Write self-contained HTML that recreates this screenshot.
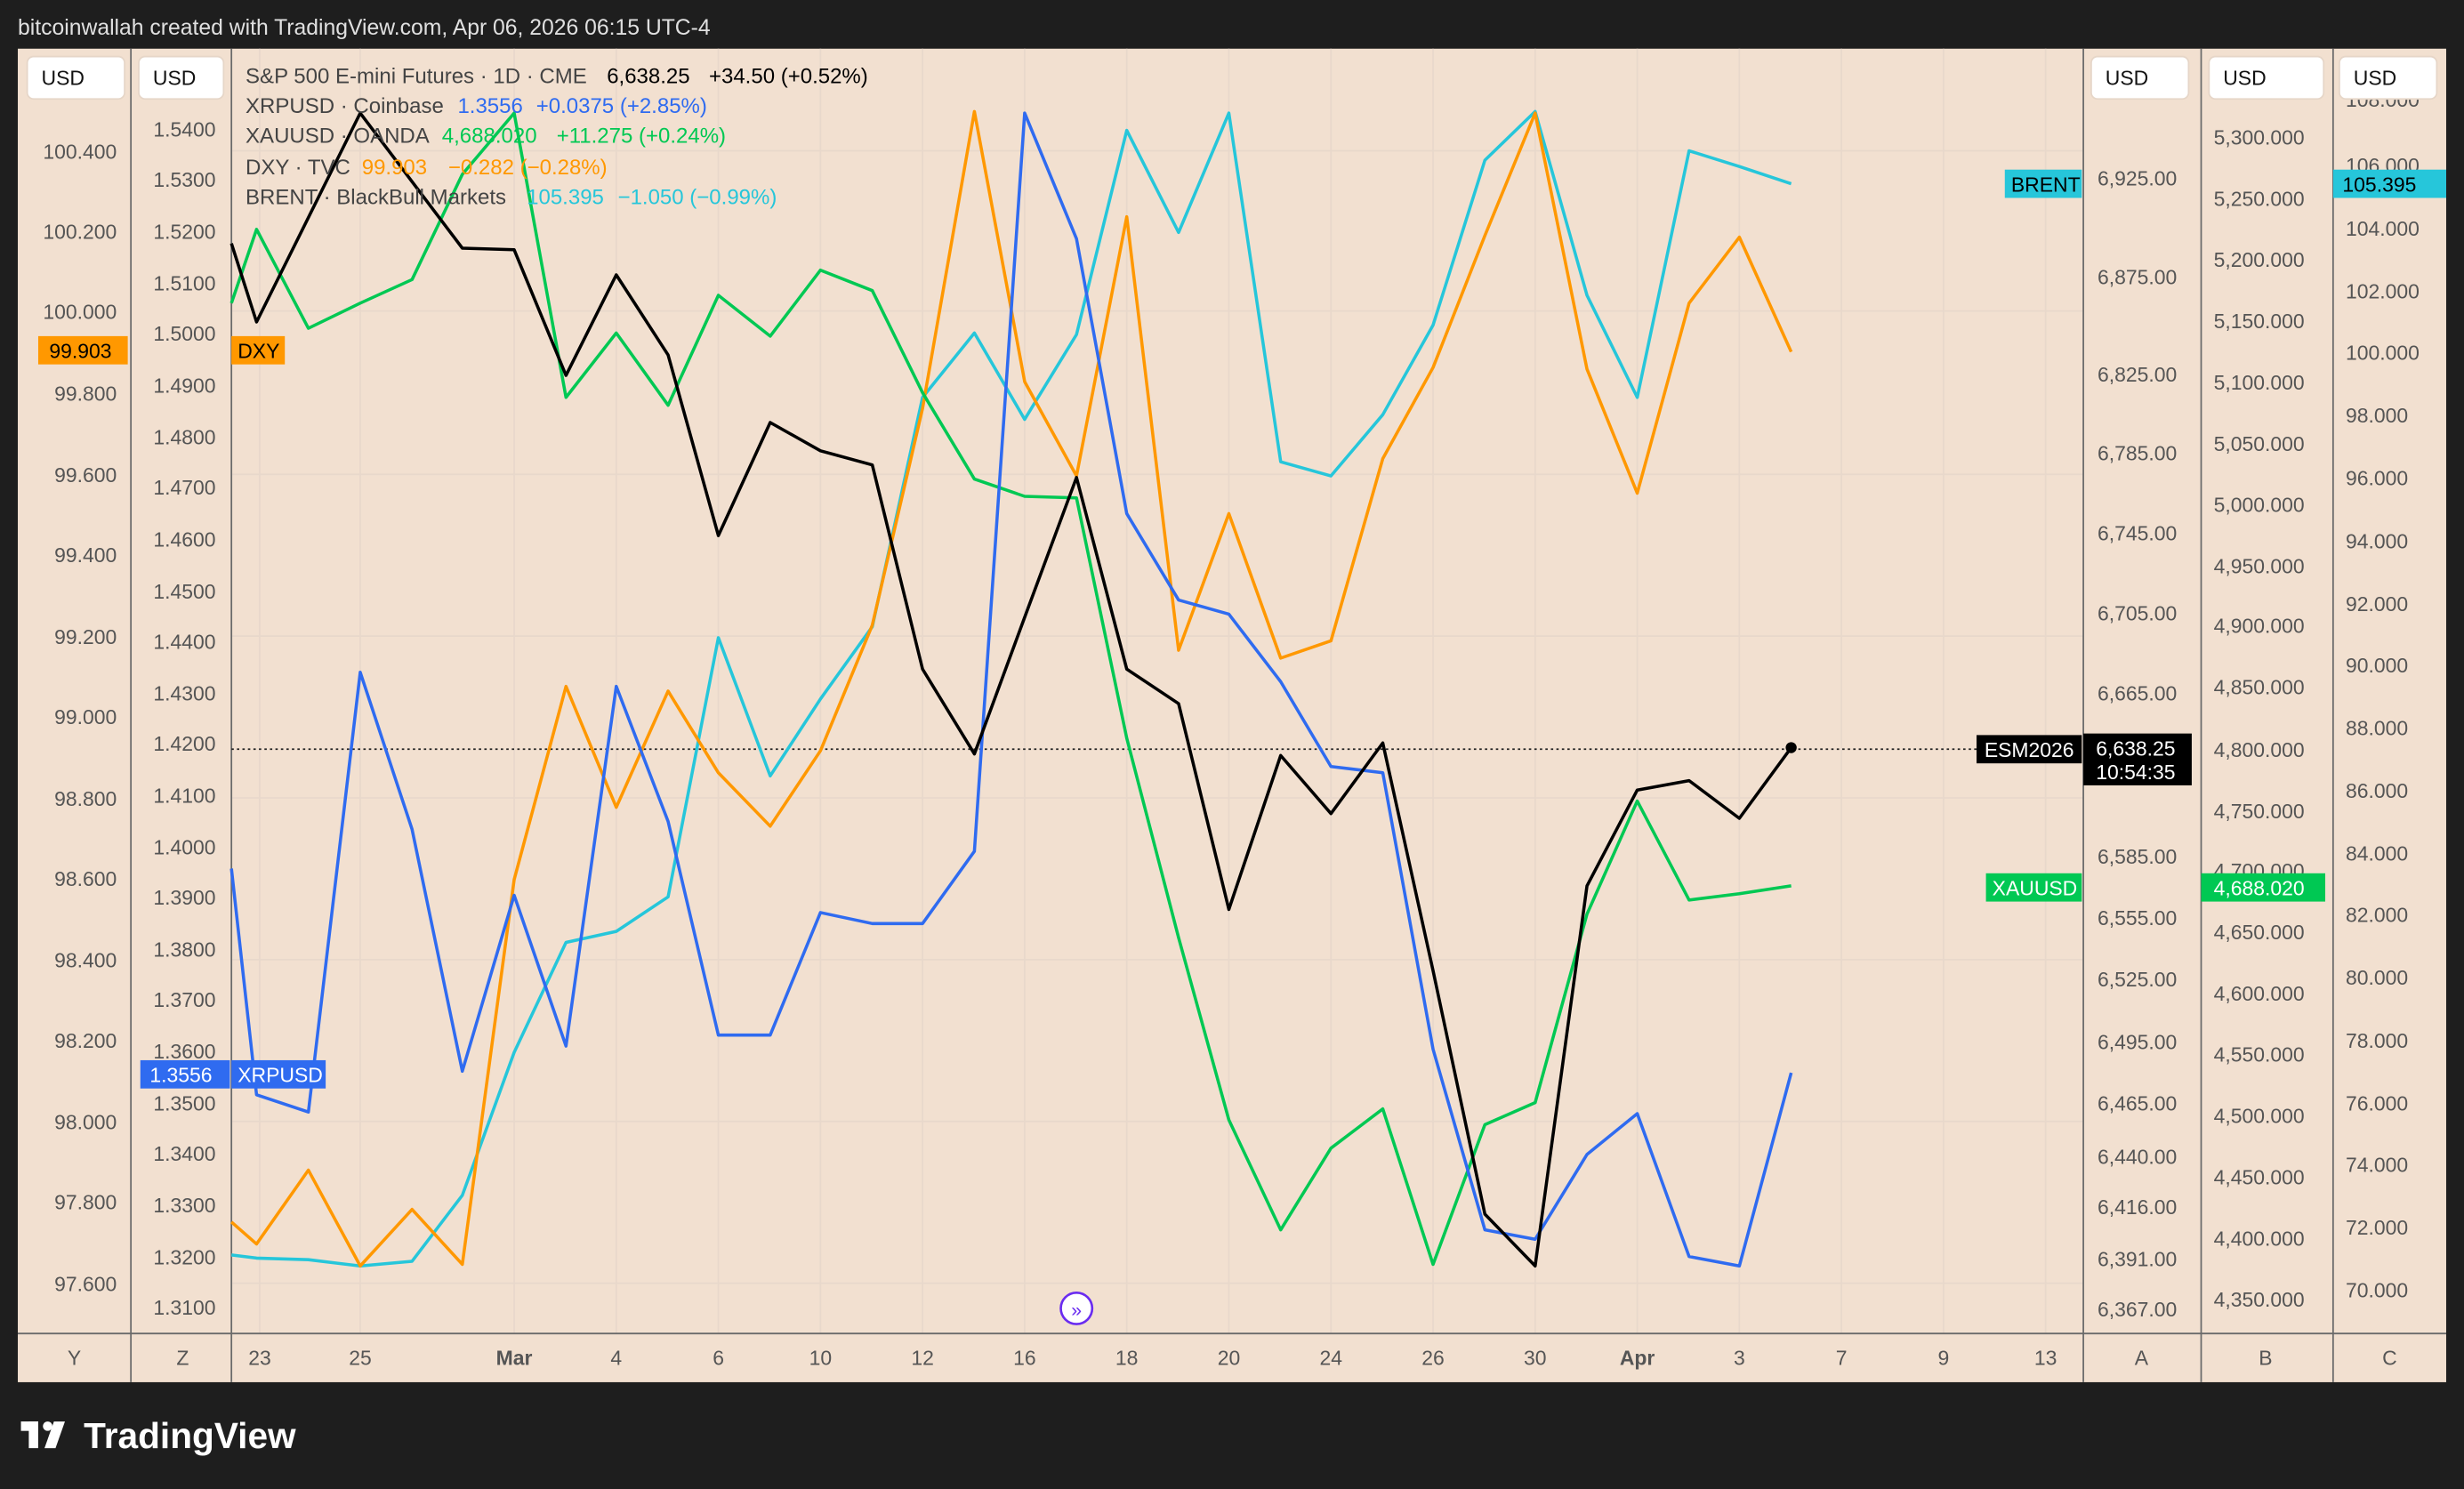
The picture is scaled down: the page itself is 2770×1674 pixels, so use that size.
<!DOCTYPE html>
<html><head><meta charset="utf-8"><style>
html,body{margin:0;padding:0;background:#1e1e1e;}
svg{display:block;}
text{font-family:"Liberation Sans",sans-serif;}
</style></head><body>
<svg width="2770" height="1674" viewBox="0 0 1568 948" xmlns="http://www.w3.org/2000/svg">
<rect x="0" y="0" width="1568" height="948" fill="#1e1e1e"/>
<text x="11" y="22" font-size="14" fill="#e0e0e0">bitcoinwallah created with TradingView.com, Apr 06, 2026 06:15 UTC-4</text>
<rect x="11" y="31" width="1546" height="849" fill="#f2e0d0"/>
<g stroke="#e8d8cb" stroke-width="1">
<line x1="165" y1="31" x2="165" y2="849"/><line x1="229" y1="31" x2="229" y2="849"/><line x1="327" y1="31" x2="327" y2="849"/><line x1="392" y1="31" x2="392" y2="849"/><line x1="457" y1="31" x2="457" y2="849"/><line x1="522" y1="31" x2="522" y2="849"/><line x1="587" y1="31" x2="587" y2="849"/><line x1="652" y1="31" x2="652" y2="849"/><line x1="717" y1="31" x2="717" y2="849"/><line x1="782" y1="31" x2="782" y2="849"/><line x1="847" y1="31" x2="847" y2="849"/><line x1="912" y1="31" x2="912" y2="849"/><line x1="977" y1="31" x2="977" y2="849"/><line x1="1042" y1="31" x2="1042" y2="849"/><line x1="1107" y1="31" x2="1107" y2="849"/><line x1="1172" y1="31" x2="1172" y2="849"/><line x1="1237" y1="31" x2="1237" y2="849"/><line x1="1302" y1="31" x2="1302" y2="849"/>
<line x1="147" y1="96" x2="1326" y2="96"/><line x1="147" y1="198" x2="1326" y2="198"/><line x1="147" y1="302" x2="1326" y2="302"/><line x1="147" y1="405" x2="1326" y2="405"/><line x1="147" y1="508" x2="1326" y2="508"/><line x1="147" y1="611" x2="1326" y2="611"/><line x1="147" y1="714" x2="1326" y2="714"/><line x1="147" y1="817" x2="1326" y2="817"/>
</g>
<g stroke="#6a6a6a" stroke-width="1">
<line x1="83" y1="31" x2="83" y2="880"/><line x1="147" y1="31" x2="147" y2="880"/>
<line x1="1326" y1="31" x2="1326" y2="880"/><line x1="1401" y1="31" x2="1401" y2="880"/><line x1="1485" y1="31" x2="1485" y2="880"/>
<line x1="11" y1="849" x2="1557" y2="849"/>
</g>
<g font-size="13" fill="#555">
<g text-anchor="end">
<text x="74" y="101">100.400</text><text x="74" y="152">100.200</text><text x="74" y="203">100.000</text><text x="74" y="255">99.800</text><text x="74" y="307">99.600</text><text x="74" y="358">99.400</text><text x="74" y="410">99.200</text><text x="74" y="461">99.000</text><text x="74" y="513">98.800</text><text x="74" y="564">98.600</text><text x="74" y="616">98.400</text><text x="74" y="667">98.200</text><text x="74" y="719">98.000</text><text x="74" y="770">97.800</text><text x="74" y="822">97.600</text>
<text x="137" y="87">1.5400</text><text x="137" y="119">1.5300</text><text x="137" y="152">1.5200</text><text x="137" y="185">1.5100</text><text x="137" y="217">1.5000</text><text x="137" y="250">1.4900</text><text x="137" y="283">1.4800</text><text x="137" y="315">1.4700</text><text x="137" y="348">1.4600</text><text x="137" y="381">1.4500</text><text x="137" y="413">1.4400</text><text x="137" y="446">1.4300</text><text x="137" y="478">1.4200</text><text x="137" y="511">1.4100</text><text x="137" y="544">1.4000</text><text x="137" y="576">1.3900</text><text x="137" y="609">1.3800</text><text x="137" y="641">1.3700</text><text x="137" y="674">1.3600</text><text x="137" y="707">1.3500</text><text x="137" y="739">1.3400</text><text x="137" y="772">1.3300</text><text x="137" y="805">1.3200</text><text x="137" y="837">1.3100</text>
</g>
<g>
<text x="1335" y="118">6,925.00</text><text x="1335" y="181">6,875.00</text><text x="1335" y="243">6,825.00</text><text x="1335" y="293">6,785.00</text><text x="1335" y="344">6,745.00</text><text x="1335" y="395">6,705.00</text><text x="1335" y="446">6,665.00</text><text x="1335" y="550">6,585.00</text><text x="1335" y="589">6,555.00</text><text x="1335" y="628">6,525.00</text><text x="1335" y="668">6,495.00</text><text x="1335" y="707">6,465.00</text><text x="1335" y="741">6,440.00</text><text x="1335" y="773">6,416.00</text><text x="1335" y="806">6,391.00</text><text x="1335" y="838">6,367.00</text>
<text x="1409" y="92">5,300.000</text><text x="1409" y="131">5,250.000</text><text x="1409" y="170">5,200.000</text><text x="1409" y="209">5,150.000</text><text x="1409" y="248">5,100.000</text><text x="1409" y="287">5,050.000</text><text x="1409" y="326">5,000.000</text><text x="1409" y="365">4,950.000</text><text x="1409" y="403">4,900.000</text><text x="1409" y="442">4,850.000</text><text x="1409" y="482">4,800.000</text><text x="1409" y="521">4,750.000</text><text x="1409" y="559">4,700.000</text><text x="1409" y="598">4,650.000</text><text x="1409" y="637">4,600.000</text><text x="1409" y="676">4,550.000</text><text x="1409" y="715">4,500.000</text><text x="1409" y="754">4,450.000</text><text x="1409" y="793">4,400.000</text><text x="1409" y="832">4,350.000</text>
<text x="1493" y="68">108.000</text><text x="1493" y="110">106.000</text><text x="1493" y="150">104.000</text><text x="1493" y="190">102.000</text><text x="1493" y="229">100.000</text><text x="1493" y="269">98.000</text><text x="1493" y="309">96.000</text><text x="1493" y="349">94.000</text><text x="1493" y="389">92.000</text><text x="1493" y="428">90.000</text><text x="1493" y="468">88.000</text><text x="1493" y="508">86.000</text><text x="1493" y="548">84.000</text><text x="1493" y="587">82.000</text><text x="1493" y="627">80.000</text><text x="1493" y="667">78.000</text><text x="1493" y="707">76.000</text><text x="1493" y="746">74.000</text><text x="1493" y="786">72.000</text><text x="1493" y="826">70.000</text>
</g>
<g text-anchor="middle">
<text x="165" y="869">23</text><text x="229" y="869">25</text><text x="327" y="869" font-weight="bold">Mar</text><text x="392" y="869">4</text><text x="457" y="869">6</text><text x="522" y="869">10</text><text x="587" y="869">12</text><text x="652" y="869">16</text><text x="717" y="869">18</text><text x="782" y="869">20</text><text x="847" y="869">24</text><text x="912" y="869">26</text><text x="977" y="869">30</text><text x="1042" y="869" font-weight="bold">Apr</text><text x="1107" y="869">3</text><text x="1172" y="869">7</text><text x="1237" y="869">9</text><text x="1302" y="869">13</text>
<text x="47" y="869">Y</text><text x="116" y="869">Z</text><text x="1363" y="869">A</text><text x="1442" y="869">B</text><text x="1521" y="869">C</text>
</g>
</g>
<g fill="#fff" stroke="#e6d6c8">
<rect x="17" y="36" width="62" height="27" rx="4"/><rect x="88" y="36" width="54" height="27" rx="4"/><rect x="1331" y="36" width="62" height="27" rx="4"/><rect x="1406" y="36" width="73" height="27" rx="4"/><rect x="1489" y="36" width="62" height="27" rx="4"/>
</g>
<g font-size="13" fill="#111">
<text x="26" y="54">USD</text><text x="97" y="54">USD</text><text x="1340" y="54">USD</text><text x="1415" y="54">USD</text><text x="1498" y="54">USD</text>
</g>
<line x1="147" y1="477" x2="1258" y2="477" stroke="#222" stroke-width="1" stroke-dasharray="1.5,2"/>
<g fill="none" stroke-width="2" stroke-linejoin="round">
<polyline stroke="#26c6da" points="147,799 163,801 196,802 229,806 262,803 294,761 327,670 360,600 392,593 425,571 457,406 490,494 522,445 555,399 587,253 620,212 652,267 685,213 717,83 750,148 782,72 815,294 847,303 880,264 912,207 945,102 977,71 1010,188 1042,253 1075,96 1107,106 1140,117"/>
<polyline stroke="#ff9800" points="147,778 163,792 196,745 229,806 262,770 294,805 327,560 360,437 392,514 425,440 457,492 490,526 522,478 555,398 587,260 620,71 652,243 685,303 717,138 750,414 782,327 815,419 847,408 880,292 912,234 945,150 977,72 1010,235 1042,314 1075,193 1107,151 1140,224"/>
<polyline stroke="#00c853" points="147,193 163,146 196,209 229,193 262,178 294,111 327,72 360,253 392,212 425,258 457,188 490,214 522,172 555,185 587,250 620,305 652,316 685,317 717,470 750,597 782,713 815,783 847,731 880,706 912,805 945,716 977,702 1010,582 1042,510 1075,573 1107,569 1140,564"/>
<polyline stroke="#2f6bf0" points="147,553 163,697 196,708 229,428 262,528 294,682 327,570 360,666 392,437 425,523 457,659 490,659 522,581 555,588 587,588 620,542 652,72 685,152 717,327 750,382 782,391 815,434 847,488 880,492 912,668 945,783 977,789 1010,735 1042,709 1075,800 1107,806 1140,683"/>
<polyline stroke="#000" points="147,155 163,205 229,72 294,158 327,159 360,239 392,175 425,226 457,341 490,269 522,287 555,296 587,426 620,480 652,393 685,304 717,426 750,448 782,579 815,481 847,518 880,473 912,618 945,773 977,806 1010,564 1042,503 1075,497 1107,521 1140,476"/>
</g>
<circle cx="1140" cy="476" r="3.5" fill="#000"/>
<g font-size="13.6" fill="#444">
<text x="156" y="53">S&amp;P 500 E-mini Futures · 1D · CME</text>
<text x="386" y="53" fill="#000">6,638.25</text><text x="451" y="53" fill="#000">+34.50 (+0.52%)</text>
<text x="156" y="72">XRPUSD · Coinbase</text>
<text x="291" y="72" fill="#2f6bf0">1.3556</text><text x="341" y="72" fill="#2f6bf0">+0.0375 (+2.85%)</text>
<text x="156" y="91">XAUUSD · OANDA</text>
<text x="281" y="91" fill="#00c853">4,688.020</text><text x="354" y="91" fill="#00c853">+11.275 (+0.24%)</text>
<text x="156" y="111">DXY · TVC</text>
<text x="230" y="111" fill="#ff9800">99.903</text><text x="285" y="111" fill="#ff9800">−0.282 (−0.28%)</text>
<text x="156" y="130">BRENT · BlackBull Markets</text>
<text x="335" y="130" fill="#26c6da">105.395</text><text x="393" y="130" fill="#26c6da">−1.050 (−0.99%)</text>
</g>
<g font-size="13">
<rect x="24" y="214" width="57" height="18" fill="#ff9800"/><text x="31" y="228" fill="#000">99.903</text>
<rect x="147" y="214" width="34" height="18" fill="#ff9800"/><text x="151" y="228" fill="#000">DXY</text>
<rect x="89" y="675" width="57" height="18" fill="#2f6bf0"/><text x="95" y="689" fill="#fff">1.3556</text>
<rect x="147" y="675" width="60" height="18" fill="#2f6bf0"/><text x="151" y="689" fill="#fff">XRPUSD</text>
<rect x="1276" y="108" width="49" height="18" fill="#26c6da"/><text x="1280" y="122" fill="#000">BRENT</text>
<rect x="1485" y="108" width="72" height="18" fill="#26c6da"/><text x="1491" y="122" fill="#000">105.395</text>
<rect x="1258" y="468" width="67" height="18" fill="#000"/><text x="1263" y="482" fill="#fff">ESM2026</text>
<rect x="1326" y="467" width="69" height="33" fill="#000"/><text x="1334" y="481" fill="#fff">6,638.25</text><text x="1334" y="496" fill="#fff">10:54:35</text>
<rect x="1264" y="556" width="61" height="18" fill="#00c853"/><text x="1268" y="570" fill="#fff">XAUUSD</text>
<rect x="1401" y="556" width="79" height="18" fill="#00c853"/><text x="1409" y="570" fill="#fff">4,688.020</text>
</g>
<circle cx="685" cy="833" r="10" fill="#fff" stroke="#6a2cf0" stroke-width="1.5"/>
<text x="685" y="838" font-size="12" fill="#6a2cf0" text-anchor="middle">»</text>
<g fill="#fff">
<rect x="13" y="905" width="11" height="6"/><rect x="18" y="905" width="6" height="17"/><circle cx="30" cy="908" r="3"/><polygon points="34,905 41,905 35,922 28,922"/>
<text x="53" y="922" font-size="23" font-weight="bold">TradingView</text>
</g>
</svg>
</body></html>
